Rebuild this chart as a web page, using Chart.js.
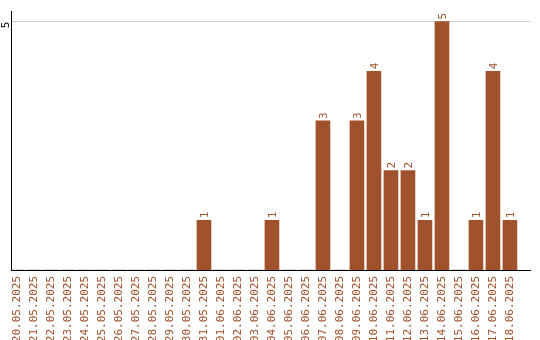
<!DOCTYPE html>
<html>
<head>
<meta charset="utf-8">
<script src="https://cdn.jsdelivr.net/npm/chart.js@4"></script>
<style>
  html, body { margin: 0; padding: 0; background: #fff; }
  #wrap { width: 540px; height: 340px; }
</style>
</head>
<body>
<div id="wrap"><canvas id="dayChart" width="540" height="340"></canvas></div>
<script>
const dates = [
  '20.05.2025', '21.05.2025', '22.05.2025', '23.05.2025', '24.05.2025',
  '25.05.2025', '26.05.2025', '27.05.2025', '28.05.2025', '29.05.2025',
  '30.05.2025', '31.05.2025', '01.06.2025', '02.06.2025', '03.06.2025',
  '04.06.2025', '05.06.2025', '06.06.2025', '07.06.2025', '08.06.2025',
  '09.06.2025', '10.06.2025', '11.06.2025', '12.06.2025', '13.06.2025',
  '14.06.2025', '15.06.2025', '16.06.2025', '17.06.2025', '18.06.2025'
];
const counts = [0, 0, 0, 0, 0, 0, 0, 0, 0, 0, 0, 1, 0, 0, 0, 1, 0, 0, 3, 0, 3, 4, 2, 2, 1, 5, 0, 1, 4, 1];
const yTicks = [5];

const brown = '#A0522D';
const monoFont = { family: 'DejaVu Sans Mono', size: 11 };

// value labels written upward above each bar
const barValues = {
  id: 'barValues',
  afterDatasetsDraw(chart) {
    const ctx = chart.ctx;
    const meta = chart.getDatasetMeta(0);
    ctx.save();
    ctx.fillStyle = brown;
    ctx.font = '11px "DejaVu Sans Mono"';
    ctx.textAlign = 'left';
    ctx.textBaseline = 'middle';
    meta.data.forEach((bar, i) => {
      if (!counts[i]) return;
      ctx.save();
      ctx.translate(bar.x + 1, bar.y - 2);
      ctx.rotate(-Math.PI / 2);
      ctx.fillText(String(counts[i]), 0, 0);
      ctx.restore();
    });
    ctx.restore();
  }
};

new Chart(document.getElementById('dayChart').getContext('2d'), {
  type: 'bar',
  data: {
    datasets: [{
      data: counts.map((v, i) => ({ x: i, y: v })),
      backgroundColor: brown,
      barThickness: 14
    }]
  },
  options: {
    responsive: false,
    animation: false,
    layout: { padding: { top: 10, right: 10, left: 0, bottom: 0 } },
    plugins: {
      legend: { display: false },
      tooltip: { enabled: false }
    },
    scales: {
      x: {
        type: 'linear',
        offset: false,
        min: -0.35,
        max: 30.18,
        afterBuildTicks: (scale) => { scale.ticks = dates.map((d, i) => ({ value: i })); },
        afterFit: (scale) => { scale.height = 70; },
        grid: { display: false, drawTicks: false, offset: false },
        border: { display: true, color: '#000', width: 1 },
        ticks: {
          autoSkip: false,
          minRotation: 90,
          maxRotation: 90,
          padding: 6,
          color: brown,
          font: monoFont,
          callback: (v) => dates[v]
        }
      },
      y: {
        min: 0,
        max: 5.2,
        afterBuildTicks: (scale) => { scale.ticks = yTicks.map(v => ({ value: v })); },
        afterFit: (scale) => { scale.width = 11; },
        grid: { color: '#cccccc', drawTicks: false },
        border: { color: '#000', width: 1 },
        ticks: {
          minRotation: 90,
          maxRotation: 90,
          padding: 5,
          color: '#000',
          font: monoFont
        }
      }
    }
  },
  plugins: [barValues]
});
</script>
</body>
</html>
